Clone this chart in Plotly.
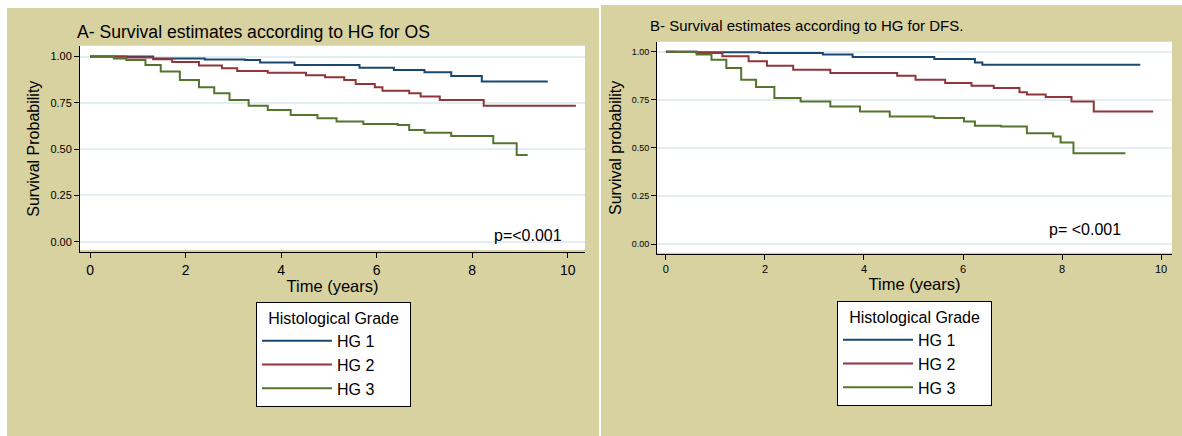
import plotly.graph_objects as go

W, H = 1182, 436

# ---------------- Data ----------------
# Panel A: Overall survival
os_hg1_t = [0, 1.32, 2.4, 3.24, 3.56, 4.28, 5.64, 6.36, 7.0, 7.56, 8.2, 9.58]
os_hg1_s = [1.0, 0.99, 0.985, 0.982, 0.968, 0.955, 0.940, 0.928, 0.915, 0.895, 0.866, 0.866]

os_hg2_t = [0, 0.76, 1.32, 1.72, 2.28, 2.76, 3.08, 3.72, 4.52, 4.92, 5.32, 5.56, 5.96, 6.12,
            6.68, 6.92, 7.32, 8.24, 10.17]
os_hg2_s = [1.0, 0.995, 0.986, 0.971, 0.952, 0.937, 0.922, 0.913, 0.900, 0.888, 0.874, 0.852,
            0.834, 0.816, 0.802, 0.784, 0.766, 0.734, 0.734]

os_hg3_t = [0, 0.5, 0.76, 1.16, 1.48, 1.88, 2.28, 2.6, 2.92, 3.32, 3.72, 4.2, 4.76, 5.16,
            5.72, 6.44, 6.68, 7.0, 7.56, 8.44, 8.93, 9.16]
os_hg3_s = [1.0, 0.99, 0.982, 0.955, 0.919, 0.874, 0.834, 0.802, 0.766, 0.734, 0.712, 0.685,
            0.667, 0.649, 0.636, 0.630, 0.604, 0.589, 0.571, 0.532, 0.469, 0.469]

# Panel B: Disease-free survival
dfs_hg1_t = [0, 0.62, 1.89, 3.17, 3.77, 5.42, 6.24, 6.39, 9.58]
dfs_hg1_s = [1.0, 0.997, 0.993, 0.985, 0.973, 0.962, 0.944, 0.932, 0.932]

dfs_hg2_t = [0, 0.62, 1.14, 1.67, 2.04, 2.57, 3.32, 4.67, 5.04, 5.64, 6.17, 6.62, 7.14,
             7.29, 7.67, 8.19, 8.64, 9.84]
dfs_hg2_s = [1.0, 0.993, 0.976, 0.950, 0.927, 0.906, 0.889, 0.875, 0.854, 0.837, 0.823,
             0.811, 0.789, 0.777, 0.764, 0.741, 0.689, 0.689]

dfs_hg3_t = [0, 0.17, 0.62, 0.92, 1.22, 1.52, 1.82, 2.19, 2.72, 3.32, 3.92, 4.52, 5.42,
             6.02, 6.24, 6.77, 7.29, 7.82, 7.97, 8.23, 9.28]
dfs_hg3_s = [1.0, 0.998, 0.985, 0.958, 0.915, 0.854, 0.816, 0.759, 0.741, 0.715, 0.689,
             0.663, 0.655, 0.637, 0.615, 0.611, 0.576, 0.559, 0.528, 0.472, 0.472]

group_names = ["HG 1", "HG 2", "HG 3"]
group_colors = ["#1a476f", "#90353b", "#55752f"]
x_ticks = [0, 2, 4, 6, 8, 10]
y_ticks = [0, 0.25, 0.5, 0.75, 1.0]

FONT = "Liberation Sans, Arial, Helvetica, sans-serif"
BEIGE = "#d8d2a0"
GRID = "#e4edf1"


def px_x(p):
    return p / W


def px_y(p):
    return 1 - p / H


fig = go.Figure()

os_series = [(os_hg1_t, os_hg1_s), (os_hg2_t, os_hg2_s), (os_hg3_t, os_hg3_s)]
dfs_series = [(dfs_hg1_t, dfs_hg1_s), (dfs_hg2_t, dfs_hg2_s), (dfs_hg3_t, dfs_hg3_s)]

for (t, s), name, col in zip(os_series, group_names, group_colors):
    fig.add_trace(go.Scatter(x=t, y=s, mode="lines", name=name, line=dict(color=col, width=2, shape="hv"),
                             xaxis="x", yaxis="y", legend="legend"))
for (t, s), name, col in zip(dfs_series, group_names, group_colors):
    fig.add_trace(go.Scatter(x=t, y=s, mode="lines", name=name, line=dict(color=col, width=2, shape="hv"),
                             xaxis="x2", yaxis="y2", legend="legend2"))

# Panel geometry in pixels
L = dict(x0=80, x1=585, top=45.7, axis=251.7, white_bottom=250)
R = dict(x0=657, x1=1172, top=41.7, axis=254, white_bottom=252.7)

shapes = [
    dict(type="rect", xref="paper", yref="paper", x0=px_x(7), x1=px_x(599), y0=px_y(436), y1=px_y(8),
         fillcolor=BEIGE, line=dict(width=0), layer="below"),
    dict(type="rect", xref="paper", yref="paper", x0=px_x(601), x1=px_x(1182), y0=px_y(436), y1=px_y(5),
         fillcolor=BEIGE, line=dict(width=0), layer="below"),
    dict(type="rect", xref="paper", yref="paper", x0=px_x(L["x0"]), x1=px_x(L["x1"]),
         y0=px_y(L["white_bottom"]), y1=px_y(L["top"]), fillcolor="white", line=dict(width=0), layer="below"),
    dict(type="rect", xref="paper", yref="paper", x0=px_x(R["x0"]), x1=px_x(R["x1"]),
         y0=px_y(R["white_bottom"]), y1=px_y(R["top"]), fillcolor="white", line=dict(width=0), layer="below"),
]


def xaxis(dom, rng, size, anchor):
    return dict(domain=dom, range=rng, anchor=anchor, tickvals=x_ticks, showgrid=False, zeroline=False,
                showline=True, linecolor="black", linewidth=1, ticks="outside", ticklen=5, tickcolor="black",
                tickfont=dict(family=FONT, size=size, color="black"),
                title=dict(text="Time (years)", font=dict(family=FONT, size=16.5, color="black"), standoff=0))


def yaxis(dom, rng, size, anchor, title):
    return dict(domain=dom, range=rng, anchor=anchor, tickvals=y_ticks, tickformat=".2f", showgrid=True,
                gridcolor=GRID, gridwidth=1.5, zeroline=False, showline=True, linecolor="black", linewidth=1,
                ticks="outside", ticklen=5, tickcolor="black",
                tickfont=dict(family=FONT, size=size, color="black"),
                title=dict(text=title, font=dict(family=FONT, size=16, color="black"), standoff=6))


NB = "\u00a0"
legend_common = dict(
    title=dict(text=NB * 2 + "Histological Grade" + NB * 2, side="top center",
               font=dict(family=FONT, size=16, color="black")),
    font=dict(family=FONT, size=16, color="black"), bgcolor="white", bordercolor="black", borderwidth=1,
    xanchor="left", yanchor="top", itemwidth=70, tracegroupgap=0, itemclick=False, itemdoubleclick=False,
)

fig.update_layout(
    width=W, height=H, margin=dict(l=0, r=0, t=0, b=0),
    paper_bgcolor="white", plot_bgcolor="rgba(0,0,0,0)",
    font=dict(family=FONT, color="black"),
    xaxis=xaxis([px_x(L["x0"]), px_x(L["x1"])], [-0.21, 10.36], 14, "y"),
    yaxis=yaxis([px_y(L["axis"]), px_y(L["top"])], [-0.054, 1.059], 11, "x", "Survival Probability"),
    xaxis2=xaxis([px_x(R["x0"]), px_x(R["x1"])], [-0.18, 10.22], 11, "y2"),
    yaxis2=yaxis([px_y(R["axis"]), px_y(R["top"])], [-0.052, 1.052], 9, "x2", "Survival probability"),
    shapes=shapes,
    legend=dict(x=px_x(256), y=px_y(302), **legend_common),
    legend2=dict(x=px_x(837), y=px_y(301), **legend_common),
    annotations=[
        dict(text="A- Survival estimates according to HG for OS", xref="paper", yref="paper",
             x=px_x(75), y=px_y(32), xanchor="left", yanchor="middle", showarrow=False,
             font=dict(family=FONT, size=17.6, color="black")),
        dict(text="B- Survival estimates according to HG for DFS.", xref="paper", yref="paper",
             x=px_x(647.5), y=px_y(26), xanchor="left", yanchor="middle", showarrow=False,
             font=dict(family=FONT, size=15, color="black")),
        dict(text="p=<0.001", xref="paper", yref="paper", x=px_x(527.5), y=px_y(235),
             xanchor="center", yanchor="middle", showarrow=False, font=dict(family=FONT, size=16, color="black")),
        dict(text="p= <0.001", xref="paper", yref="paper", x=px_x(1085), y=px_y(230),
             xanchor="center", yanchor="middle", showarrow=False, font=dict(family=FONT, size=16, color="black")),
    ],
)

fig.write_html("out.html")
